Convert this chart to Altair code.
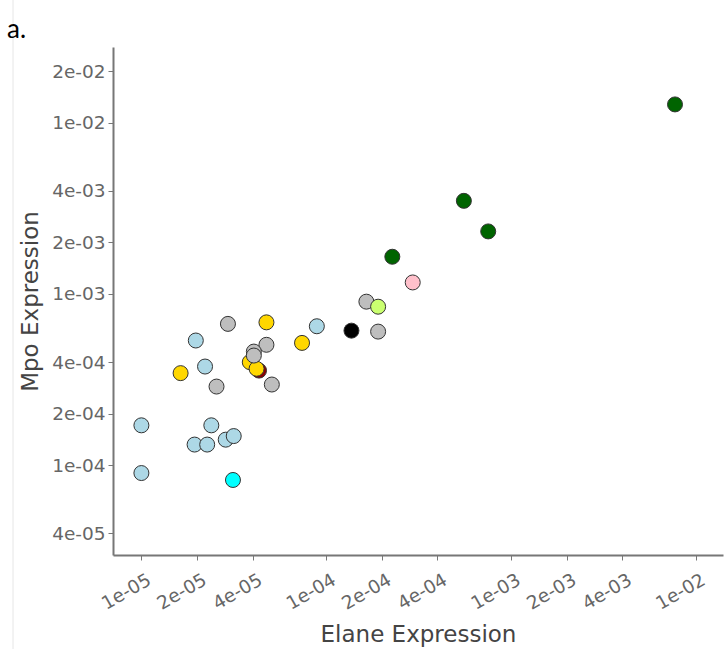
import altair as alt
import pandas as pd

# ---- data ----
elane = [1.0e-5, 1.0e-5, 1.97e-5, 2.21e-5, 8.9e-5, 1.94e-5, 2.27e-5, 2.39e-5, 2.86e-5, 3.16e-5,
         3.13e-5,
         4.33e-5,
         1.63e-5, 4.75e-5, 3.86e-5, 4.20e-5, 7.4e-5,
         2.55e-5, 2.94e-5, 4.75e-5, 4.06e-5, 4.06e-5, 5.08e-5, 1.91e-4, 1.65e-4,
         1.37e-4,
         1.91e-4,
         2.94e-4,
         2.28e-4, 5.56e-4, 7.53e-4, 7.72e-3]
mpo = [1.71e-4, 9.0e-5, 5.35e-4, 3.77e-4, 6.48e-4, 1.32e-4, 1.32e-4, 1.71e-4, 1.41e-4, 1.48e-4,
       8.2e-5,
       3.57e-4,
       3.45e-4, 6.83e-4, 4.0e-4, 3.66e-4, 5.18e-4,
       2.88e-4, 6.69e-4, 5.05e-4, 4.61e-4, 4.37e-4, 2.96e-4, 6.03e-4, 9.02e-4,
       6.11e-4,
       8.43e-4,
       1.168e-3,
       1.65e-3, 3.50e-3, 2.32e-3, 1.28e-2]
group = (["lightblue"] * 10 + ["cyan"] + ["darkred"] + ["gold"] * 5 + ["gray"] * 8
         + ["black"] + ["lightgreen"] + ["pink"] + ["darkgreen"] * 4)

groups = ["lightblue", "cyan", "darkred", "gold", "gray", "black", "lightgreen", "pink", "darkgreen"]
group_colors = ["#ADD8E6", "#00FFFF", "#8B0000", "#FFD700", "#BEBEBE", "#000000", "#CAFF70", "#FFC0CB", "#006400"]

x_ticks = [1e-5, 2e-5, 4e-5, 1e-4, 2e-4, 4e-4, 1e-3, 2e-3, 4e-3, 1e-2]
y_ticks = [4e-5, 1e-4, 2e-4, 4e-4, 1e-3, 2e-3, 4e-3, 1e-2, 2e-2]

df = pd.DataFrame({"Elane": elane, "Mpo": mpo, "group": group, "idx": list(range(len(elane)))})

label_expr = "replace(format(datum.value, '.0e'), 'e-', 'e-0')"
FONT = "DejaVu Sans"

points = alt.Chart(df).mark_point(
    shape="circle", filled=True, size=225, stroke="#333333", strokeWidth=1, opacity=1
).encode(
    x=alt.X("Elane:Q",
            scale=alt.Scale(type="log", domain=[7.02e-6, 1.404e-2], nice=False),
            axis=alt.Axis(values=x_ticks, labelExpr=label_expr, title="Elane Expression",
                          labelAngle=330, labelAlign="right", labelBaseline="top",
                          labelPadding=10, labelOffset=3, titleX=305, titleY=86,
                          titleBaseline="alphabetic", titleAlign="center")),
    y=alt.Y("Mpo:Q",
            scale=alt.Scale(type="log", domain=[2.99e-5, 2.77e-2], nice=False),
            axis=alt.Axis(values=y_ticks, labelExpr=label_expr, title="Mpo Expression",
                          labelPadding=3, titleX=-76, titleY=254, titleAngle=270,
                          titleBaseline="alphabetic", titleAlign="center")),
    color=alt.Color("group:N", scale=alt.Scale(domain=groups, range=group_colors), legend=None),
    order=alt.Order("idx:Q"),
)

panel_label = alt.Chart(pd.DataFrame({"t": ["a."]})).mark_text(
    font="Lato", fontSize=26, color="#000000", align="left", baseline="alphabetic"
).encode(text="t:N", x=alt.value(-106), y=alt.value(-9))

edge = alt.Chart(pd.DataFrame({"a": [0]})).mark_rule(color="#e6e6e6", strokeWidth=1).encode(
    x=alt.value(-100), y=alt.value(-47), y2=alt.value(602)
)

chart = alt.layer(edge, points, panel_label).properties(
    width=610, height=508,
    autosize=alt.AutoSizeParams(type="none"),
    padding={"left": 113, "top": 47, "right": 3, "bottom": 94},
    background="white",
).configure_view(stroke=None).configure_axis(
    grid=False,
    domainColor="#777777", domainWidth=2,
    tickColor="#777777", tickSize=5, tickWidth=1,
    labelFont=FONT, labelFontSize=18.5, labelColor="#666666",
    titleFont=FONT, titleFontSize=23, titleColor="#444444", titleFontWeight="normal",
)

chart.save("out.html", embed_options={"renderer": "svg", "actions": False})
